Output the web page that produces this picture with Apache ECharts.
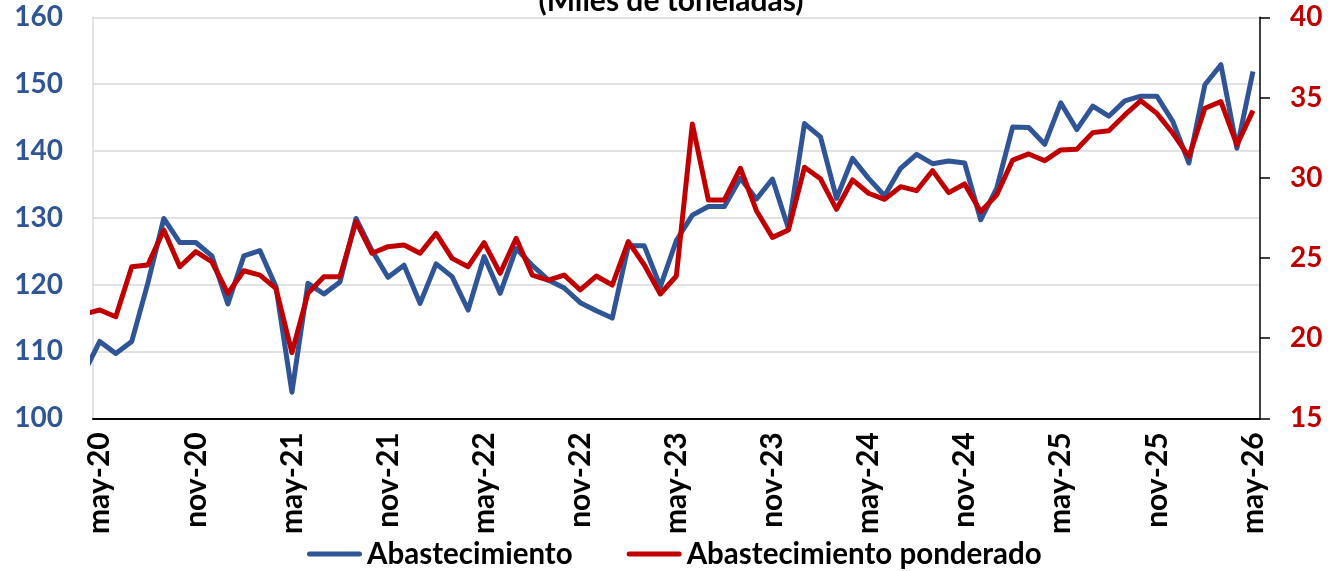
<!DOCTYPE html>
<html>
<head>
<meta charset="utf-8">
<script src="https://cdn.jsdelivr.net/npm/echarts@6/dist/echarts.min.js"></script>
<style>
html,body{margin:0;padding:0;background:#fff;}
#chart{width:1342px;height:571px;}
</style>
</head>
<body>
<div id="chart"></div>
<script>
// Months (first point, abr-20, lies just before the axis start and is clipped)
const months = ['abr-20','may-20','jun-20','jul-20','ago-20','sep-20','oct-20','nov-20','dic-20',
'ene-21','feb-21','mar-21','abr-21','may-21','jun-21','jul-21','ago-21','sep-21','oct-21','nov-21','dic-21',
'ene-22','feb-22','mar-22','abr-22','may-22','jun-22','jul-22','ago-22','sep-22','oct-22','nov-22','dic-22',
'ene-23','feb-23','mar-23','abr-23','may-23','jun-23','jul-23','ago-23','sep-23','oct-23','nov-23','dic-23',
'ene-24','feb-24','mar-24','abr-24','may-24','jun-24','jul-24','ago-24','sep-24','oct-24','nov-24','dic-24',
'ene-25','feb-25','mar-25','abr-25','may-25','jun-25','jul-25','ago-25','sep-25','oct-25','nov-25','dic-25',
'ene-26','feb-26','mar-26','abr-26','may-26'];

const tickLabels = ['may-20','nov-20','may-21','nov-21','may-22','nov-22','may-23','nov-23','may-24','nov-24','may-25','nov-25','may-26'];

const abastecimiento = [106.7,
111.5,109.7,111.5,120.2,129.9,126.3,126.3,124.3,117.1,124.3,125.1,119.7,
103.9,120.2,118.6,120.4,129.9,125.1,121.1,122.9,117.2,123.1,121.2,116.2,
124.2,118.7,125.4,122.9,120.7,119.5,117.3,116.1,115.0,125.8,125.8,119.7,
126.6,130.4,131.7,131.7,135.9,132.8,135.8,128.4,144.1,142.1,132.9,138.9,
135.9,133.3,137.4,139.5,138.1,138.5,138.2,129.7,134.4,143.6,143.5,141.0,
147.2,143.2,146.7,145.2,147.5,148.2,148.2,144.4,138.2,149.9,152.9,140.4,
151.9];

const ponderado = [21.5,
21.75,21.33,24.45,24.56,26.74,24.45,25.39,24.76,22.79,24.2,23.93,23.1,
19.1,22.79,23.83,23.83,27.26,25.29,25.7,25.8,25.29,26.53,24.97,24.45,
25.95,24.04,26.22,23.93,23.62,23.93,23.0,23.87,23.31,26.01,24.56,22.75,
23.87,33.35,28.61,28.61,30.59,27.94,26.28,26.74,30.65,29.93,28.03,29.86,
29.03,28.65,29.44,29.19,30.44,29.07,29.61,27.88,28.92,31.1,31.48,31.06,
31.73,31.77,32.81,32.93,33.91,34.8,34.01,32.77,31.31,34.33,34.74,32.04,
34.18];

const leftTicks = [100,110,120,130,140,150,160];
const rightTicks = [15,20,25,30,35,40];

const FONT = 'Lato';
const BLUE = '#2F5597';
const RED = '#C00000';

const toPairs = arr => arr.map((v, k) => [k - 1, v]);
const tickPos = tickLabels.map((_, k) => k * 6);
const ICON = 'path://M2.5,0 L52.5,0 A2.5,2.5 0 0 1 52.5,5 L2.5,5 A2.5,2.5 0 0 1 2.5,0 Z';

const chart = echarts.init(document.getElementById('chart'));
chart.setOption({
  animation: false,
  backgroundColor: '#ffffff',
  graphic: [{
    type: 'text',
    left: 'center',
    top: -14,
    style: {
      text: '(Miles de toneladas)',
      font: 'bold 30px ' + FONT,
      fill: '#000000'
    }
  }],
  grid: { left: 93, right: 82, top: 17.3, bottom: 152.7 },
  legend: {
    left: 302,
    top: 534,
    itemWidth: 55,
    itemHeight: 5,
    itemGap: 54,
    textStyle: { fontFamily: FONT, fontWeight: 'bold', fontSize: 29.5, color: '#000' },
    data: [
      { name: 'Abastecimiento', icon: ICON, itemStyle: { color: BLUE } },
      { name: 'Abastecimiento ponderado', icon: ICON, itemStyle: { color: RED } }
    ]
  },
  xAxis: {
    type: 'value',
    min: -0.42,
    max: 72.44,
    axisLine: { show: true, onZero: false, lineStyle: { color: '#000', width: 2 } },
    axisTick: { show: false },
    splitLine: { show: false },
    axisLabel: {
      customValues: tickPos,
      rotate: 90,
      margin: 14,
      fontFamily: FONT,
      fontWeight: 'bold',
      fontSize: 30,
      color: '#000',
      formatter: v => tickLabels[Math.round(v / 6)]
    }
  },
  yAxis: [{
    type: 'value',
    min: leftTicks[0],
    max: leftTicks[leftTicks.length - 1],
    interval: 10,
    axisLine: { show: true, onZero: false, lineStyle: { color: '#D6DCE5', width: 1.5 } },
    axisTick: { show: false },
    splitLine: { show: true, lineStyle: { color: '#D9D9D9', width: 1.5 } },
    axisLabel: { margin: 30, fontFamily: FONT, fontWeight: 'bold', fontSize: 28, color: BLUE }
  }, {
    type: 'value',
    position: 'right',
    min: rightTicks[0],
    max: rightTicks[rightTicks.length - 1],
    interval: 5,
    axisLine: { show: true, onZero: false, lineStyle: { color: '#000', width: 1.5 } },
    axisTick: { show: true, inside: false, length: 10, lineStyle: { color: '#000', width: 1.5 } },
    splitLine: { show: false },
    axisLabel: { margin: 30, fontFamily: FONT, fontWeight: 'bold', fontSize: 28, color: RED }
  }],
  series: [{
    name: 'Abastecimiento',
    type: 'line',
    yAxisIndex: 0,
    data: toPairs(abastecimiento),
    symbol: 'none',
    clip: true,
    lineStyle: { color: BLUE, width: 5, cap: 'butt', join: 'round' },
    itemStyle: { color: BLUE },
    z: 2
  }, {
    name: 'Abastecimiento ponderado',
    type: 'line',
    yAxisIndex: 1,
    data: toPairs(ponderado),
    symbol: 'none',
    clip: true,
    lineStyle: { color: RED, width: 5, cap: 'butt', join: 'round' },
    itemStyle: { color: RED },
    z: 3
  }]
});
</script>
</body>
</html>
